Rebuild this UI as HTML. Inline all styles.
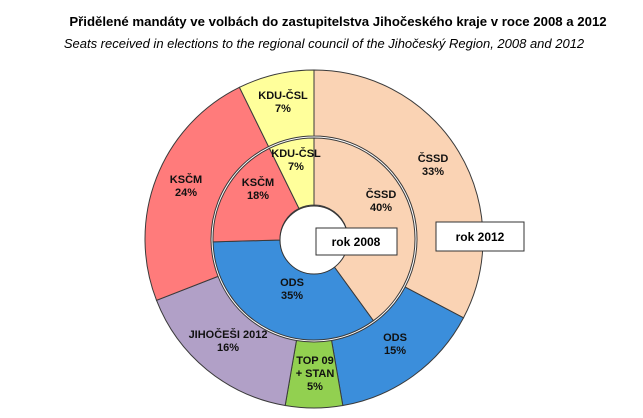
<!DOCTYPE html>
<html><head><meta charset="utf-8"><style>
body{margin:0;background:#fff;width:643px;height:418px;overflow:hidden}
svg{display:block}
text{font-family:"Liberation Sans",Arial,sans-serif}
.l{font-size:11px;font-weight:bold;text-anchor:middle;fill:#111}
</style></head><body>
<svg id="s" width="643" height="418" viewBox="0 0 643 418">
<text x="338" y="26" font-size="13.2" font-weight="bold" text-anchor="middle">Přidělené mandáty ve volbách do zastupitelstva  Jihočeského kraje v roce 2008 a 2012</text>
<text x="324" y="48" font-size="13" font-style="italic" text-anchor="middle">Seats received in elections to the regional  council of the Jihočeský Region,  2008 and 2012</text>
<g id="g"></g>
<circle cx="314" cy="240" r="34" fill="#fff" stroke="#333" stroke-width="1"/>
<rect x="316" y="228" width="81" height="27" fill="#fff" stroke="#333"/>
<text x="356" y="246" font-size="12" font-weight="bold" text-anchor="middle">rok 2008</text>
<rect x="436" y="222" width="88" height="29" fill="#fff" stroke="#333"/>
<text x="480" y="241" font-size="12" font-weight="bold" text-anchor="middle">rok 2012</text>
<g class="l">
<text x="433" y="162" class="l">ČSSD</text><text x="433" y="175" class="l">33%</text>
<text x="381" y="198" class="l">ČSSD</text><text x="381" y="211" class="l">40%</text>
<text x="283" y="99" class="l">KDU-ČSL</text><text x="283" y="112" class="l">7%</text>
<text x="296" y="157" class="l">KDU-ČSL</text><text x="296" y="170" class="l">7%</text>
<text x="258" y="186" class="l">KSČM</text><text x="258" y="199" class="l">18%</text>
<text x="186" y="183" class="l">KSČM</text><text x="186" y="196" class="l">24%</text>
<text x="292" y="286" class="l">ODS</text><text x="292" y="299" class="l">35%</text>
<text x="395" y="341" class="l">ODS</text><text x="395" y="354" class="l">15%</text>
<text x="228" y="338" class="l">JIHOČEŠI 2012</text><text x="228" y="351" class="l">16%</text>
<text x="315" y="364" class="l">TOP 09</text><text x="315" y="377" class="l">+ STAN</text><text x="315" y="390" class="l">5%</text>
</g>
</svg>
<script>
var cx=314,cy=239,g=document.getElementById('g');
function ring(data,r0,r1){var a=0,tot=55;data.forEach(function(d){var a0=a/tot*2*Math.PI,a1=(a+d[0])/tot*2*Math.PI;a+=d[0];
function p(r,t){return (cx+r*Math.sin(t)).toFixed(2)+','+(cy-r*Math.cos(t)).toFixed(2)}
var lg=(a1-a0)>Math.PI?1:0;
var path='M'+p(r1,a0)+'A'+r1+','+r1+' 0 '+lg+' 1 '+p(r1,a1)+'L'+p(r0,a1)+'A'+r0+','+r0+' 0 '+lg+' 0 '+p(r0,a0)+'Z';
var e=document.createElementNS('http://www.w3.org/2000/svg','path');e.setAttribute('d',path);e.setAttribute('fill',d[1]);e.setAttribute('stroke','#3a3a3a');e.setAttribute('stroke-width','1');g.appendChild(e);});}
ring([[18,'#FAD3B4'],[8,'#3B8EDB'],[3,'#92D050'],[9,'#B1A0C7'],[13,'#FF7B7B'],[4,'#FFFF9B']],103,169);
ring([[22,'#FAD3B4'],[19,'#3B8EDB'],[10,'#FF7B7B'],[4,'#FFFF9B']],34,101);
</script>
</body></html>
